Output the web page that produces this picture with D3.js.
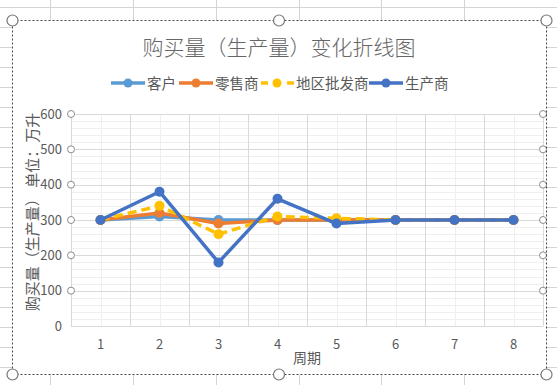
<!DOCTYPE html>
<html><head><meta charset="utf-8">
<script src="https://cdn.jsdelivr.net/npm/d3@7"></script>
<style>body{margin:0;background:#fff;}svg{display:block;font-family:"Microsoft YaHei","Noto Sans CJK SC",sans-serif;}</style>
</head><body><svg id="c" width="557" height="385"></svg>
<script>
const categories = ["1","2","3","4","5","6","7","8"];
const seriesNames = ["客户","零售商","地区批发商","生产商"];
const kehu = [300,310,300,300,300,300,300,300];
const lingshou = [300,320,290,300,300,300,300,300];
const pifa = [300,340,260,310,305,300,300,300];
const shengchan = [300,380,180,360,290,300,300,300];
const yTicks = [0,100,200,300,400,500,600];
const colors = ["#5B9BD5","#ED7D31","#FFC000","#4472C4"];
const dashes = [null,null,"9,5",null];
const allSeries = [kehu,lingshou,pifa,shengchan];
const title = "购买量（生产量）变化折线图";
const xTitle = "周期";
const yTitle = "购买量（生产量） 单位：万升";

const svg = d3.select("#c");
// sheet grid background
const sheetCols = [50,133,216,299,381,464];
const sheetRows = d3.range(7,385,20);
const bg = svg.append("g");
sheetCols.forEach(x=>bg.append("line").attr("x1",x+0.5).attr("x2",x+0.5).attr("y1",0).attr("y2",385).attr("stroke","#d4d4d4"));
sheetRows.forEach(y=>bg.append("line").attr("x1",0).attr("x2",557).attr("y1",y+0.5).attr("y2",y+0.5).attr("stroke","#d4d4d4"));

// chart area
const L=12.5,T=20.5,R=546.5,B=374.5;
svg.append("rect").attr("x",L).attr("y",T).attr("width",R-L).attr("height",B-T).attr("fill","#fff");

const x = d3.scaleBand().domain(categories).range([71,543]);
const y = d3.scaleLinear().domain([0,600]).range([326,114]);

const g = svg.append("g");
// minor horizontal gridlines
d3.range(0,600,20).filter(v=>v%100!==0).forEach(v=>{
  g.append("line").attr("x1",71).attr("x2",543).attr("y1",Math.round(y(v))+0.5).attr("y2",Math.round(y(v))+0.5).attr("stroke","#efefef");
});
// minor vertical gridlines at category centers
categories.forEach(c=>{
  const xx=Math.round(x(c)+x.bandwidth()/2)+0.5;
  g.append("line").attr("x1",xx).attr("x2",xx).attr("y1",114).attr("y2",326).attr("stroke","#efefef");
});
// major vertical gridlines at boundaries
categories.concat(["end"]).forEach((c,i)=>{
  const xx=Math.round(71+i*x.bandwidth())+0.5;
  g.append("line").attr("x1",xx).attr("x2",xx).attr("y1",114).attr("y2",326).attr("stroke","#d9d9d9");
});
// major horizontal gridlines
yTicks.forEach(v=>{
  g.append("line").attr("x1",71).attr("x2",543).attr("y1",Math.round(y(v))+0.5).attr("y2",Math.round(y(v))+0.5).attr("stroke","#d9d9d9");
});

// y tick labels
yTicks.forEach(v=>{
  g.append("text").attr("x",62).attr("y",y(v)).attr("dy","0.35em").attr("text-anchor","end")
   .attr("font-size",13).attr("fill","#595959").text(v);
});
// x tick labels
categories.forEach(c=>{
  g.append("text").attr("x",x(c)+x.bandwidth()/2).attr("y",344).attr("dy","0.35em").attr("text-anchor","middle")
   .attr("font-size",13).attr("fill","#595959").text(c);
});

// lines
const line = d3.line().x((d,i)=>x(categories[i])+x.bandwidth()/2).y(d=>y(d));
allSeries.forEach((s,k)=>{
  const p = g.append("path").datum(s).attr("d",line).attr("fill","none").attr("stroke",colors[k])
   .attr("stroke-width",3.5).attr("stroke-linejoin","round");
  if(dashes[k]) p.attr("stroke-dasharray",dashes[k]);
  s.forEach((d,i)=>g.append("circle").attr("cx",x(categories[i])+x.bandwidth()/2).attr("cy",y(d)).attr("r",5).attr("fill",colors[k]));
});

// gridline selection handles
yTicks.filter(v=>v>0).forEach(v=>{
  [71,543].forEach(xx=>g.append("circle").attr("cx",xx).attr("cy",y(v)).attr("r",3.5).attr("fill","#fff").attr("stroke","#8c8c8c").attr("stroke-width",1));
});

// titles
svg.append("text").attr("x",279).attr("y",48).attr("dy","0.35em").attr("text-anchor","middle").attr("font-size",21).attr("font-weight",300).attr("fill","#666").text(title);
svg.append("text").attr("x",307).attr("y",358).attr("dy","0.35em").attr("text-anchor","middle").attr("font-size",14).attr("fill","#595959").text(xTitle);
svg.append("text").attr("transform","translate(33,212) rotate(-90)").attr("dy","0.35em").attr("text-anchor","middle").attr("font-size",15).attr("fill","#595959").text(yTitle);

// legend
const legX = [111,179,260,369];
seriesNames.forEach((n,k)=>{
  const lg = svg.append("g");
  const ln = lg.append("line").attr("x1",legX[k]).attr("x2",legX[k]+34).attr("y1",83).attr("y2",83).attr("stroke",colors[k]).attr("stroke-width",3.5);
  if(dashes[k]) ln.attr("stroke-dasharray","7,6").attr("x1",legX[k]+1);
  lg.append("circle").attr("cx",legX[k]+17).attr("cy",83).attr("r",4.5).attr("fill",colors[k]);
  lg.append("text").attr("x",legX[k]+36).attr("y",84).attr("dy","0.35em").attr("font-size",14.5).attr("fill","#595959").text(n);
});

// selection border and handles
svg.append("rect").attr("x",L).attr("y",T).attr("width",R-L).attr("height",B-T).attr("fill","none")
  .attr("stroke","#444").attr("stroke-dasharray","2,2");
[[L,T],[279,T],[R,T],[L,B],[279,B],[R,B]].forEach(([hx,hy])=>{
  svg.append("circle").attr("cx",hx).attr("cy",hy).attr("r",5.5).attr("fill","#fff").attr("stroke","#777").attr("stroke-width",1.2);
});
</script></body></html>
